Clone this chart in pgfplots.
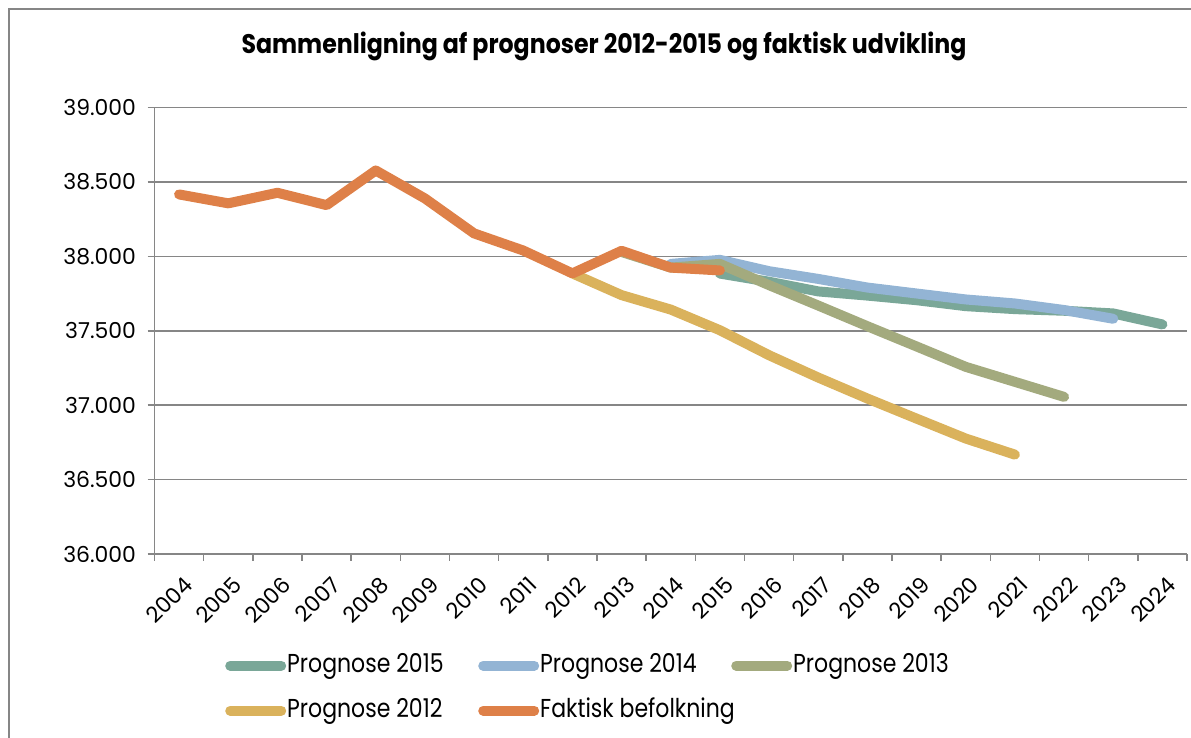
\documentclass[border=0pt]{standalone}
\usepackage{pgfplots}
\pgfplotsset{compat=1.18}
\usepackage{fontspec}
\setmainfont{Poppins}
\newfontfamily\condfont[FakeStretch=0.85]{Poppins}
\newfontfamily\condbold[FakeStretch=0.88]{Poppins Bold}
\definecolor{axisgray}{HTML}{868686}
\definecolor{cteal}{HTML}{7AA798}
\definecolor{cblue}{HTML}{93B4D4}
\definecolor{colive}{HTML}{A3AA7E}
\definecolor{cyellow}{HTML}{DAB25C}
\definecolor{corange}{HTML}{DE8048}
\begin{document}
\begin{tikzpicture}[x=1bp,y=1bp]
\path[use as bounding box] (0,0) rectangle (1191,738);
\draw[axisgray, line width=1.5bp] (9,-20) -- (9,729) -- (1220,729);
\node[font=\condbold\fontsize{27}{31}\selectfont, anchor=base] at (604,684) {Sammenligning af prognoser 2012-2015 og faktisk udvikling};
\begin{axis}[
  at={(154.5bp,184bp)}, anchor=south west, scale only axis,
  width=1032.5bp, height=446.3bp,
  xmin=-0.5, xmax=20.5, ymin=36000, ymax=39000,
  axis x line*=bottom, axis y line*=left,
  axis line style={-, draw=axisgray, line width=1.5bp},
  tick align=outside, major tick length=7bp,
  tick style={axisgray, line width=1.5bp},
  xtick={-0.5,0.5,...,20.5}, xticklabels={},
  extra x ticks={0,1,...,20},
  extra x tick labels={2004,2005,2006,2007,2008,2009,2010,2011,2012,2013,2014,2015,2016,2017,2018,2019,2020,2021,2022,2023,2024},
  extra x tick style={major tick length=0pt, xticklabel style={xshift=3.5bp, yshift=-21bp, rotate=45, anchor=north east, inner sep=0pt}},
  ytick={36000,36500,...,39000},
  scaled y ticks=false,
  /pgf/number format/.cd, fixed, 1000 sep={.}, assume math mode=true, /pgfplots/.cd,
  ymajorgrids, grid style={axisgray, line width=1.5bp},
  ticklabel style={font=\fontsize{22}{26}\selectfont},
  yticklabel style={xshift=-8bp},
  legend columns=3,
  legend style={draw=none, fill=none, at={(0.0654,-0.2195)}, anchor=north west,
    font=\condfont\fontsize{26}{30}\selectfont,
    nodes={inner xsep=1bp, inner ysep=0pt, text height=18bp, text depth=5bp},
    row sep=22bp, /tikz/every even column/.append style={column sep=0pt}},
  legend image code/.code={\draw (0bp,0bp) -- (51bp,0bp);},
  every axis plot/.append style={line width=10bp, line cap=round, line join=round},
]
\addplot[cteal] coordinates {(11,37885) (12,37830) (13,37765) (14,37737) (15,37706) (16,37666) (17,37646) (18,37635) (19,37617) (20,37543)};
\addlegendentry{\makebox[190bp][l]{Prognose 2015}}
\addplot[cblue] coordinates {(10,37950) (11,37977) (12,37901) (13,37849) (14,37791) (15,37751) (16,37711) (17,37684) (18,37640) (19,37581)};
\addlegendentry{\makebox[190bp][l]{Prognose 2014}}
\addplot[colive] coordinates {(9,38030) (10,37925) (11,37950) (12,37807) (13,37670) (14,37531) (15,37395) (16,37258) (17,37157) (18,37056)};
\addlegendentry{\makebox[190bp][l]{Prognose 2013}}
\addplot[cyellow] coordinates {(8,37886) (9,37740) (10,37643) (11,37504) (12,37336) (13,37186) (14,37045) (15,36910) (16,36776) (17,36668)};
\addlegendentry{\makebox[190bp][l]{Prognose 2012}}
\addplot[corange] coordinates {(0,38417) (1,38357) (2,38428) (3,38345) (4,38578) (5,38390) (6,38155) (7,38040) (8,37886) (9,38038) (10,37925) (11,37906)};
\addlegendentry{\makebox[190bp][l]{Faktisk befolkning}}
\end{axis}
\end{tikzpicture}
\end{document}
